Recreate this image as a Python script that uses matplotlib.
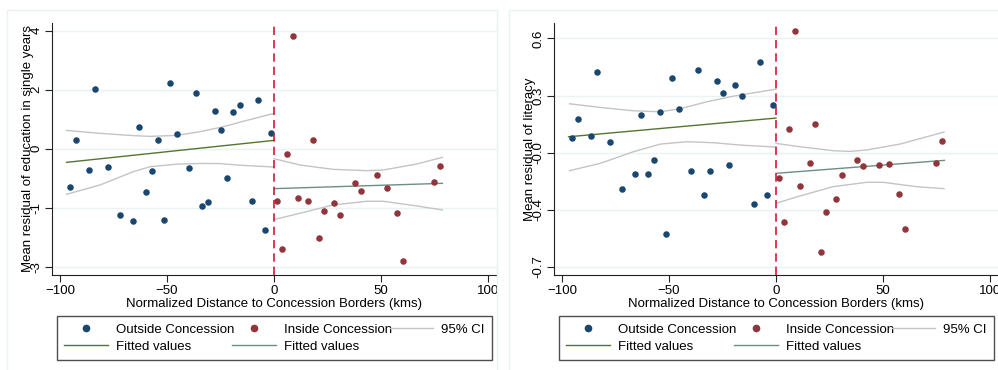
import matplotlib.pyplot as plt
import numpy as np
from matplotlib.lines import Line2D
from matplotlib.patches import Rectangle

plt.rcParams['font.family'] = ['Liberation Sans', 'DejaVu Sans']

# distance to border (kms), same districts in both panels
x_out = [-95.3, -92.4, -83.5, -86.6, -77.7, -71.7, -65.9, -62.9, -60.0, -57.2,
         -54.2, -51.4, -48.4, -45.5, -39.6, -36.6, -33.8, -30.7, -27.7, -24.9,
         -22.0, -19.0, -16.0, -10.1, -7.3, -4.4, -1.4]
x_in = [1.2, 3.7, 6.1, 8.7, 11.1, 16.0, 18.4, 20.9, 23.4, 28.2,
        30.7, 38.0, 40.5, 48.0, 52.8, 57.6, 60.1, 74.8, 77.4]

# y values on the plotted (tick-step) scale
edu_out = [-0.649, 0.141, 1.004, -0.361, -0.310, -1.128, -1.218, 0.372, -0.733, -0.384,
           0.147, -1.201, 1.117, 0.254, -0.333, 0.936, -0.976, -0.902, 0.632, 0.321,
           -0.491, 0.615, 0.745, -0.886, 0.829, -1.376, 0.265]
edu_in = [-0.891, -1.703, -0.090, 1.918, -0.835, -0.886, 0.141, -1.506, -1.060, -0.914,
          -1.122, -0.587, -0.711, -0.446, -0.660, -1.089, -1.901, -0.570, -0.288]

lit_out = [0.262, 0.582, 1.421, 0.291, 0.186, -0.629, -0.373, 0.664, -0.373, -0.134,
           0.716, -1.421, 1.304, 0.757, -0.326, 1.444, -0.734, -0.314, 1.252, 1.042,
           -0.215, 1.188, 0.990, -0.891, 1.584, -0.745, 0.827]
lit_in = [-0.448, -1.211, 0.408, 2.137, -0.576, -0.186, 0.501, -1.741, -1.031, -0.815,
          -0.396, -0.128, -0.233, -0.210, -0.198, -0.728, -1.328, -0.175, 0.210]

# fitted lines (end points) and 95% CI bands
fit_x_out = [-96.9, 0.0]
fit_x_in = [0.0, 78.7]
edu_fit_out = [-0.231, 0.141]
edu_fit_in = [-0.677, -0.587]
lit_fit_out = [0.279, 0.606]
lit_fit_in = [-0.361, -0.134]

edu_ci_x_out = [-96.9, -81.3, -65.7, -57.9, -45.5, -34.6, -25.2, -19.0, -15.9, 0.0]
edu_ci_hi_out = [0.310, 0.260, 0.222, 0.209, 0.226, 0.288, 0.360, 0.417, 0.450, 0.598]
edu_ci_lo_out = [-0.773, -0.615, -0.389, -0.305, -0.262, -0.250, -0.252, -0.271, -0.280, -0.310]
edu_ci_x_in = [0.0, 12.1, 27.7, 43.3, 51.1, 66.7, 78.7]
edu_ci_hi_in = [-0.169, -0.276, -0.350, -0.372, -0.361, -0.259, -0.147]
edu_ci_lo_in = [-1.201, -1.094, -0.953, -0.891, -0.891, -0.970, -1.038]

lit_ci_x_out = [-96.4, -82.1, -66.6, -54.1, -44.8, -32.3, -19.9, 0.0]
lit_ci_hi_out = [0.856, 0.792, 0.734, 0.716, 0.769, 0.891, 0.990, 1.112]
lit_ci_x_out_lo = [-96.4, -82.1, -66.6, -54.1, -41.7, -29.2, -16.8, 0.0]
lit_ci_lo_out = [-0.314, -0.186, 0.017, 0.151, 0.192, 0.175, 0.134, 0.099]
lit_ci_x_in = [0.0, 11.2, 26.7, 34.5, 42.3, 57.9, 78.5]
lit_ci_hi_in = [0.163, 0.105, 0.035, 0.023, 0.047, 0.151, 0.361]
lit_ci_x_in_lo = [0.0, 11.2, 26.7, 42.3, 50.1, 65.6, 78.5]
lit_ci_lo_in = [-0.885, -0.757, -0.594, -0.518, -0.518, -0.594, -0.629]

edu_ticklabels = ["-3", "-1", "0", "2", "4"]
lit_ticklabels = ["-0.7", "-0.4", "-0.0", "0.3", "0.6"]
ytick_pos = [-2, -1, 0, 1, 2]
xticks = [-100, -50, 0, 50, 100]

NAVY = '#1a476f'
MAROON = '#90353b'
GREEN = '#55752f'
TEAL = '#6e8e84'
CI_GRAY = '#c4c4c4'
GRID = '#eaf2f3'


def panel(ax, y_out, y_in, fits, cis, labels, ylabel, ylim):
    for xs, ys in cis:
        ax.plot(xs, ys, color=CI_GRAY, lw=1, zorder=2)
    ax.plot(fit_x_out, fits[0], color=GREEN, lw=1, zorder=3)
    ax.plot(fit_x_in, fits[1], color=TEAL, lw=1, zorder=3)
    ax.scatter(x_out, y_out, s=22, color=NAVY, zorder=4, linewidths=0)
    ax.scatter(x_in, y_in, s=22, color=MAROON, zorder=4, linewidths=0)
    ax.axvline(0, color='#dc143c', lw=1.2, ls=(0, (5, 3)), zorder=5)

    ax.set_xlim(-103.7, 104.2)
    ax.set_ylim(*ylim)
    ax.set_xticks(xticks)
    ax.set_yticks(ytick_pos)
    ax.set_yticklabels(labels, rotation=90, va='center')
    ax.grid(axis='y', color=GRID, lw=1)
    ax.set_axisbelow(True)
    for side in ['top', 'right']:
        ax.spines[side].set_visible(False)
    for side in ['left', 'bottom']:
        ax.spines[side].set_color('#222222')
    ax.tick_params(labelsize=9.5, length=5, color='#222222', pad=2)
    ax.set_xlabel("Normalized Distance to Concession Borders (kms)", fontsize=9.5, labelpad=1)
    ax.set_ylabel(ylabel, fontsize=9.5, labelpad=-2.5)

    handles = [
        Line2D([], [], marker='o', ls='none', color=NAVY, markersize=4.5),
        Line2D([], [], color=GREEN, lw=1),
        Line2D([], [], marker='o', ls='none', color=MAROON, markersize=4.5),
        Line2D([], [], color=TEAL, lw=1),
        Line2D([], [], color=CI_GRAY, lw=1),
    ]
    names = ["Outside Concession", "Fitted values", "Inside Concession",
             "Fitted values", "95% CI"]
    leg = ax.legend(handles, names, ncol=3, loc='upper left',
                    bbox_to_anchor=(0.011, -0.163, 0.978, 0.0), mode='expand',
                    fontsize=9.5, frameon=True, fancybox=False, edgecolor='#222222',
                    handlelength=3.3, handletextpad=0.6, columnspacing=0.8,
                    labelspacing=0.38, borderpad=0.55, borderaxespad=0)
    leg.get_frame().set_linewidth(1)


fig = plt.figure(figsize=(9.98, 3.7), dpi=100)
ax1 = fig.add_axes([52 / 998, 1 - 275 / 370, 445 / 998, 252 / 370])
ax2 = fig.add_axes([554 / 998, 1 - 275 / 370, 445 / 998, 252 / 370])

panel(ax1, edu_out, edu_in, (edu_fit_out, edu_fit_in),
      [(edu_ci_x_out, edu_ci_hi_out), (edu_ci_x_out, edu_ci_lo_out),
       (edu_ci_x_in, edu_ci_hi_in), (edu_ci_x_in, edu_ci_lo_in)],
      edu_ticklabels, "Mean residual of education in single years", (-2.14, 2.13))
panel(ax2, lit_out, lit_in, (lit_fit_out, lit_fit_in),
      [(lit_ci_x_out, lit_ci_hi_out), (lit_ci_x_out_lo, lit_ci_lo_out),
       (lit_ci_x_in, lit_ci_hi_in), (lit_ci_x_in_lo, lit_ci_lo_in)],
      lit_ticklabels, "Mean residual of literacy", (-2.14, 2.27))

# faint graph-region outlines
for x0, w in [(7, 490), (509, 495)]:
    fig.patches.append(Rectangle((x0 / 998, -0.05), w / 998, 1 - 10 / 370 + 0.05,
                                 transform=fig.transFigure, fill=False,
                                 edgecolor=GRID, lw=1))

fig.savefig("out.png", dpi=100)
